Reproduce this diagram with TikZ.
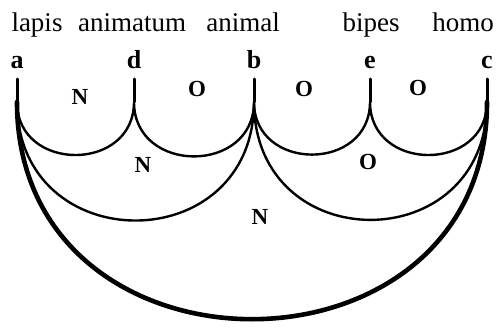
\documentclass[tikz,border=0pt]{standalone}
\usepackage{fontspec}
\setmainfont{Liberation Serif}
\usetikzlibrary{positioning}
\tikzset{
  wordlbl/.style={font=\fontsize{27}{32}\selectfont,anchor=base,inner sep=0pt},
  ptlbl/.style={font=\bfseries\fontsize{26}{30}\selectfont,anchor=base,inner sep=0pt},
  reglbl/.style={font=\bfseries\fontsize{23}{26}\selectfont,inner sep=0pt},
  stub/.style={line width=3pt},
  arcthin/.style={line width=2.4pt},
  arcthick/.style={line width=4.6pt},
  cup/.style={out=-90,in=-90,looseness=#1},
}

\begin{document}
\begin{tikzpicture}[x=1pt,y=-1pt,line cap=round]
  \useasboundingbox (0,0) rectangle (497,329);
  % terms
  \node[wordlbl] (lapis) at (37,32) {lapis};
  \node[wordlbl] (animatum) at (132,32) {animatum};
  \node[wordlbl] (animal) at (243,32) {animal};
  \node[wordlbl] (bipes) at (371,32) {bipes};
  \node[wordlbl] (homo) at (463,32) {homo};
  % points
  \node[ptlbl] (la) at (17,68) {a};
  \node[ptlbl] (ld) at (134,68) {d};
  \node[ptlbl] (lb) at (254,68) {b};
  \node[ptlbl] (le) at (370,68) {e};
  \node[ptlbl] (lc) at (487,68) {c};
  \foreach \p/\x in {a/17,d/134,b/254,e/370,c/487}{
    \coordinate (\p1) at (\x,79);
    \coordinate (\p0) at (\x,102);
    \draw[stub] (\p1) -- (\p0);
  }
  % small arcs
  \draw[arcthin] (a0) to[cup=1.55] (d0) to[cup=1.55] (b0)
    to[cup=1.55] (e0) to[cup=1.55] (c0);
  % middle arcs
  \draw[arcthin] (a0) to[cup=1.71] (b0) to[cup=1.73] (c0);
  % outer arc
  \draw[arcthick] (a0) to[cup=1.58] (c0);
  % region marks
  \node[reglbl] (n1) at (80,97) {N};
  \node[reglbl] (o1) at (197,89) {O};
  \node[reglbl] (o2) at (304,89) {O};
  \node[reglbl] (o3) at (418,88) {O};
  \node[reglbl] (n2) at (143,165) {N};
  \node[reglbl] (o4) at (368,162) {O};
  \node[reglbl] (n3) at (260,217) {N};
\end{tikzpicture}
\end{document}
